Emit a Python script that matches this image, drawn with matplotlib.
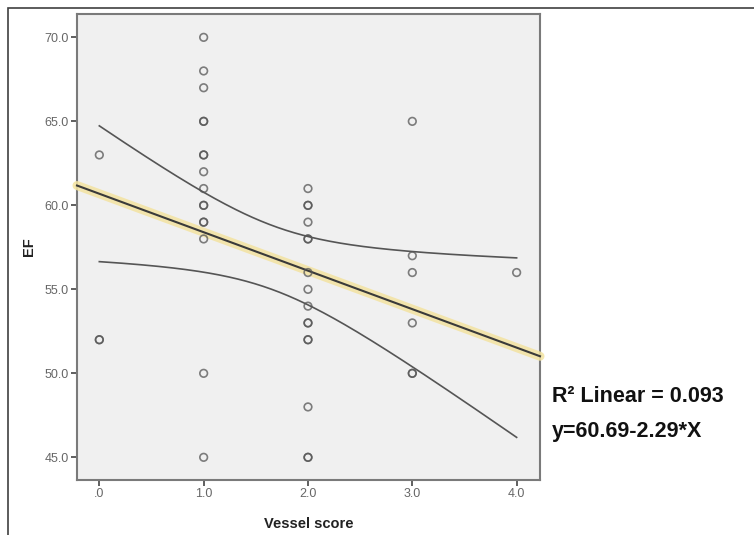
import numpy as np
import matplotlib
matplotlib.use('Agg')
import matplotlib.pyplot as plt
from matplotlib.patches import Rectangle

# Vessel score vs EF, one entry per patient (duplicates drawn on top of each other)
vessel_score = [0, 0, 0,
                1, 1, 1, 1, 1, 1, 1, 1, 1, 1, 1, 1, 1, 1, 1, 1,
                2, 2, 2, 2, 2, 2, 2, 2, 2, 2, 2, 2, 2, 2, 2, 2,
                3, 3, 3, 3, 3, 3,
                4]
ef = [63, 52, 52,
      70, 68, 67, 65, 65, 63, 63, 62, 61, 60, 60, 59, 59, 58, 50, 45,
      61, 60, 60, 59, 58, 58, 56, 55, 54, 53, 53, 52, 52, 48, 45, 45,
      65, 57, 56, 53, 50, 50,
      56]

# fit reported on the chart
intercept = 60.69
slope = -2.29
r2_text = 'R\u00b2 Linear = 0.093'
eq_text = 'y=60.69-2.29*X'

x_ticks = [0, 1, 2, 3, 4]
x_tick_labels = ['.0', '1.0', '2.0', '3.0', '4.0']
y_ticks = [45, 50, 55, 60, 65, 70]
y_tick_labels = ['45.0', '50.0', '55.0', '60.0', '65.0', '70.0']

plt.rcParams['font.family'] = ['Liberation Sans', 'DejaVu Sans']

fig = plt.figure(figsize=(7.54, 5.35), dpi=100)
ax = fig.add_axes([77 / 754, 1 - 480 / 535, (540 - 77) / 754, (480 - 14) / 535])
ax.set_facecolor('#f0f0f0')

xlo, xhi = -0.214, 4.224
ylo, yhi = 43.65, 71.39

# 95% CI of the mean around the reported line
x = np.array(vessel_score, dtype=float)
y = np.array(ef, dtype=float)
n = len(x)
resid = y - (intercept + slope * x)
s = np.sqrt(np.sum(resid ** 2) / (n - 2))
sxx = np.sum((x - x.mean()) ** 2)
t_crit = 2.021
xs = np.linspace(0, 4, 200)
fit = intercept + slope * xs
half = t_crit * s * np.sqrt(1 / n + (xs - x.mean()) ** 2 / sxx)
ax.plot(xs, fit + half, color='#555555', lw=1.2, zorder=2)
ax.plot(xs, fit - half, color='#555555', lw=1.2, zorder=2)

# regression line with yellow highlight
xl = np.array([xlo, xhi])
ax.plot(xl, intercept + slope * xl, color='#f3e3a0', lw=6.5, alpha=0.85,
        solid_capstyle='round', clip_on=False, zorder=3)
ax.plot(xl, intercept + slope * xl, color='#3a3a3a', lw=1.5, clip_on=False, zorder=4)

ax.scatter(vessel_score, ef, s=30, facecolors='none', edgecolors='#555555',
           linewidths=1.2, alpha=0.75, zorder=5)

ax.set_xlim(xlo, xhi)
ax.set_ylim(ylo, yhi)
ax.set_xticks(x_ticks)
ax.set_xticklabels(x_tick_labels)
ax.set_yticks(y_ticks)
ax.set_yticklabels(y_tick_labels)
ax.tick_params(direction='out', length=4.5, width=1.2, color='#444444',
               labelsize=9, labelcolor='#666666', pad=1.5)
for sp in ax.spines.values():
    sp.set_color('#7a7a7a')
    sp.set_linewidth(1.5)

ax.set_xlabel('Vessel score', fontsize=10.5, fontweight='bold', color='#222222', labelpad=12)
ax.set_ylabel('EF', fontsize=10.5, fontweight='bold', color='#222222', labelpad=6)

fig.text(552 / 754, 1 - 397 / 535, r2_text, fontsize=15.5, fontweight='bold',
         color='#111111', va='center', ha='left')
fig.text(552 / 754, 1 - 431 / 535, eq_text, fontsize=15.5, fontweight='bold',
         color='#111111', va='center', ha='left')

# outer frame of the chart window
fig.patches.append(Rectangle((8 / 754, -0.1), 1.2, 1 - 8 / 535 + 0.1,
                             transform=fig.transFigure, fill=False,
                             edgecolor='#404040', lw=1.2))

fig.savefig('out.png', dpi=100)
